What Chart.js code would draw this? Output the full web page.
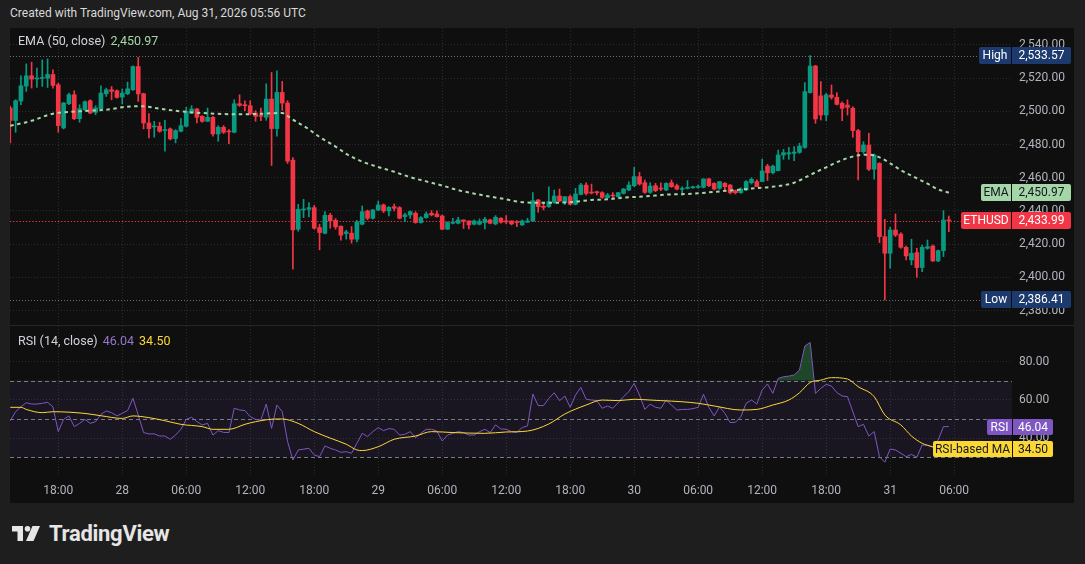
<!DOCTYPE html>
<html>
<head>
<meta charset="utf-8">
<title>ETHUSD 30m</title>
<script src="https://cdn.jsdelivr.net/npm/chart.js@4.4.1/dist/chart.umd.min.js"></script>
<style>
    body {
        margin: 0;
        width: 1085px;
        height: 564px;
        overflow: hidden;
        background: #1e1e1e;
        font-family: Roboto, "Noto Sans", sans-serif;
        position: relative;
    }
    #header {
        position: absolute;
        left: 10px;
        top: 6px;
        font-size: 12px;
        color: #d9d9d9;
    }
    #panel {
        position: absolute;
        left: 10px;
        top: 28px;
        width: 1064px;
        height: 475px;
        background: #0f0f0f;
    }
    #panel canvas {
        position: absolute;
        left: 0;
    }
    #mainCanvas { top: 0; }
    #rsiCanvas { top: 298px; }
    #separator {
        position: absolute;
        left: 0;
        top: 297px;
        width: 1064px;
        height: 1px;
        background: #262626;
    }
    .legend {
        position: absolute;
        left: 8px;
        font-size: 12.5px;
        color: #d1d4dc;
        white-space: nowrap;
    }
    .legend span { margin-left: 5px; }
    #logo {
        position: absolute;
        left: 12px;
        top: 521px;
        display: flex;
        align-items: center;
        color: #e6e6e6;
        font-weight: bold;
        font-size: 22px;
        letter-spacing: -0.3px;
    }
    #logo svg { margin-right: 9px; }
</style>
</head>
<body>
<div id="header">Created with TradingView.com, Aug 31, 2026 05:56 UTC</div>
<div id="panel">
    <canvas id="mainCanvas" width="1064" height="298"></canvas>
    <div id="separator"></div>
    <canvas id="rsiCanvas" width="1064" height="177"></canvas>
    <div class="legend" style="top:5px">EMA (50, close)<span style="color:#a5d6a7">2,450.97</span></div>
    <div class="legend" style="top:305px">RSI (14, close)<span style="color:#9575cd">46.04</span><span style="color:#fdd835">34.50</span></div>
</div>
<div id="logo">
    <svg width="28" height="15" viewBox="0 0 28 15">
        <path d="M0 0 H11 V15 H5.5 V5.5 H0 Z" fill="#e6e6e6"/>
        <circle cx="15.5" cy="2.8" r="2.8" fill="#e6e6e6"/>
        <path d="M20.5 0 H28 L21.5 15 H14 Z" fill="#e6e6e6"/>
    </svg>
    TradingView
</div>

<script>
// 30 minute candles, index 0 = Aug 27 13:30 UTC, last = Aug 31 05:30 UTC
const openVals = [
    2502, 2494.5, 2506.2, 2515.2, 2521.4, 2519.5, 2519.8, 2520, 2522.2, 2516,
    2490, 2504.6, 2510, 2495.6, 2501, 2506.4, 2499.4, 2501.6, 2510.6, 2513,
    2512.4, 2508.6, 2510.6, 2513, 2527, 2510.6, 2493, 2490.6, 2491, 2488.4,
    2489.4, 2483.6, 2488, 2491, 2499, 2501.4, 2497, 2494, 2496.4, 2486.4,
    2490.4, 2487.8, 2487.4, 2504.6, 2504, 2503.4, 2499, 2497.4, 2496.4, 2507.4,
    2489.6, 2511.4, 2505, 2470.6, 2429, 2440.6, 2441, 2442, 2430, 2426.6,
    2437.4, 2434.4, 2430.8, 2426.4, 2426.6, 2423, 2432, 2440, 2435.6, 2440.6,
    2443.6, 2440, 2442.6, 2442, 2436.6, 2437.6, 2438.6, 2433, 2436, 2438.6,
    2438.2, 2437, 2429, 2432.6, 2432.6, 2434.6, 2434, 2432, 2432, 2433,
    2434.6, 2432.2, 2435.6, 2433.6, 2434, 2433.2, 2431.6, 2433.2, 2434, 2446.6,
    2442.6, 2442.6, 2445.2, 2449, 2445, 2448.6, 2444, 2450, 2455.6, 2451.2,
    2451.6, 2451, 2448, 2449.6, 2448.6, 2450.6, 2452.6, 2455.2, 2460.7, 2457,
    2451.2, 2455.2, 2453.6, 2452.6, 2457, 2455.2, 2453, 2453.6, 2454, 2454.2,
    2454.2, 2459.3, 2456.6, 2453.6, 2456.7, 2455.6, 2452.2, 2451, 2452.6, 2457,
    2457.7, 2457.7, 2467, 2463, 2464.3, 2473.7, 2474.3, 2474.7, 2475.3, 2478.3,
    2511.3, 2527.3, 2509.3, 2497.8, 2509.9, 2508.5, 2504.8, 2503.8, 2501.8, 2488.4,
    2475.7, 2479.7, 2465.1, 2468.7, 2424.5, 2414.5, 2428.5, 2426.1, 2418.1, 2410.5,
    2414.9, 2405.9, 2417.5, 2418.9, 2409.9, 2416.1, 2434.5
];
const highVals = [
    2503, 2507, 2521.4, 2528.6, 2529.6, 2526, 2531, 2531.6, 2525, 2517,
    2505.4, 2511, 2512.4, 2504, 2506.4, 2507, 2503.4, 2515.4, 2514, 2515,
    2513, 2513.4, 2517.6, 2527.4, 2532.5, 2511, 2498.6, 2494, 2493.4, 2494.6,
    2490, 2489, 2495.6, 2502.4, 2503.4, 2501.8, 2497.4, 2502, 2497, 2491.4,
    2491.4, 2489, 2507, 2510, 2506.4, 2506.4, 2500.4, 2502, 2516.6, 2523.4,
    2524.4, 2518, 2506.4, 2472.2, 2444, 2447, 2445, 2443.4, 2432, 2439.6,
    2438.6, 2435.4, 2431, 2428.4, 2430.6, 2434.4, 2443, 2440.6, 2441, 2446,
    2444.2, 2442.6, 2444.2, 2442.6, 2438.7, 2440, 2439.6, 2436.6, 2439.4, 2440.2,
    2440, 2437.6, 2433.4, 2435.6, 2436.2, 2434.6, 2434, 2434.6, 2435.2, 2436.2,
    2435, 2437.2, 2436, 2437.2, 2434, 2434.2, 2434.6, 2435.6, 2451, 2447,
    2445, 2454.6, 2452.6, 2453.2, 2448.6, 2449.6, 2453.6, 2456.6, 2457, 2456.2,
    2452, 2451.6, 2450.6, 2451, 2451.2, 2453.6, 2457.6, 2466.3, 2463.3, 2458.6,
    2457, 2456.6, 2457, 2457, 2458.7, 2456.2, 2454.6, 2458.3, 2455, 2455.6,
    2459.3, 2459.6, 2457, 2457.7, 2457.1, 2456, 2452.6, 2454, 2458.3, 2460,
    2458.7, 2471.3, 2468.1, 2467.7, 2476.7, 2477.1, 2478.3, 2478.7, 2480.8, 2517.3,
    2533.57, 2527.7, 2517.9, 2510.9, 2515.9, 2511.3, 2505.8, 2506.9, 2502.8, 2489.2,
    2481.8, 2486.8, 2474.3, 2469.1, 2435, 2430.2, 2438.2, 2426.9, 2418.9, 2423,
    2417.5, 2419.5, 2422.5, 2419.5, 2416.5, 2440.2, 2437
];
const lowVals = [
    2481, 2487.4, 2504, 2512, 2514, 2514.4, 2515, 2514.4, 2514, 2487.4,
    2489.4, 2504, 2495, 2493.4, 2500.4, 2498.6, 2498, 2501.4, 2509, 2507,
    2508, 2504.4, 2510, 2512.6, 2506, 2489.4, 2484, 2484.4, 2487.4, 2476,
    2482.8, 2481, 2487.6, 2490.6, 2498.6, 2493, 2493.4, 2493.8, 2485, 2482,
    2486.6, 2480.6, 2487, 2503, 2500.4, 2498, 2494, 2494.4, 2494.6, 2467.4,
    2485, 2500.6, 2468.6, 2405, 2427.8, 2436, 2436.4, 2429, 2416.6, 2426.2,
    2429.6, 2429, 2422.4, 2423, 2420.6, 2421.4, 2431.6, 2434.6, 2435, 2440.2,
    2439, 2437, 2440, 2435.2, 2433.6, 2435.6, 2432.6, 2432.6, 2435.6, 2437,
    2436.2, 2428.6, 2428.9, 2432.2, 2432.2, 2429.5, 2429.2, 2431.6, 2431.6, 2429.2,
    2432.2, 2431.6, 2432.6, 2432.2, 2431.6, 2430.6, 2431.2, 2433, 2433.6, 2439.2,
    2440.6, 2442.2, 2444.6, 2445.6, 2444, 2443.6, 2443.6, 2449.6, 2449.6, 2450.2,
    2449.6, 2447.6, 2447.6, 2447.6, 2448.2, 2450.2, 2452.2, 2454.6, 2455.6, 2450.6,
    2450.6, 2451.6, 2452.2, 2452.2, 2454.2, 2452.6, 2449.6, 2453.2, 2453.6, 2453.6,
    2453.8, 2454.6, 2452.6, 2453, 2452.6, 2450.2, 2450.2, 2450.6, 2452.2, 2456.2,
    2454.6, 2457.7, 2458.3, 2462.3, 2464.1, 2471.1, 2471.1, 2470.3, 2474.7, 2477.7,
    2510.9, 2492.8, 2494.8, 2494.4, 2507.3, 2503.8, 2494.4, 2497.8, 2484.4, 2458.7,
    2474.7, 2464.3, 2459.1, 2420.9, 2386.41, 2405.5, 2424.5, 2417.5, 2410.5, 2407.5,
    2400, 2403.4, 2416.9, 2409.5, 2409.5, 2412.5, 2427.5
];
const closeVals = [
    2494.5, 2506.4, 2515.4, 2521.4, 2519.4, 2520, 2520.3, 2522.2, 2515.6, 2491.4,
    2505, 2510, 2495.6, 2501.6, 2505.8, 2499, 2502, 2511, 2513, 2512,
    2508.4, 2511, 2513.6, 2527, 2510.5, 2493, 2489.6, 2491, 2488, 2489,
    2483.4, 2488.4, 2491.4, 2500, 2501.4, 2496.4, 2494, 2496.4, 2486.4, 2490.4,
    2487.4, 2487.6, 2504.6, 2503.6, 2503.4, 2498.6, 2497, 2497, 2507.4, 2489.6,
    2511.4, 2505, 2470, 2428.6, 2441, 2441, 2442, 2429.6, 2427, 2437.4,
    2434, 2430.4, 2425.4, 2427.4, 2423, 2433.4, 2439.6, 2435.6, 2440.6, 2443.6,
    2440, 2442.2, 2441.6, 2435.6, 2437.6, 2439.6, 2433, 2436, 2438.2, 2437.6,
    2436.6, 2429, 2433, 2433.2, 2434.6, 2434, 2431.6, 2434, 2433.6, 2435,
    2432.6, 2436.2, 2433.2, 2433.4, 2432.2, 2433, 2434, 2434, 2446.2, 2442.6,
    2442.2, 2445.6, 2449, 2446, 2448.6, 2444, 2450.2, 2455.6, 2450.6, 2450.8,
    2451, 2448.2, 2449.6, 2449, 2451, 2453.2, 2455.6, 2460.7, 2456.2, 2451.2,
    2455, 2452.2, 2453.2, 2456.6, 2454.6, 2453.2, 2453.6, 2454.2, 2454.6, 2454.6,
    2459.3, 2455.2, 2453.2, 2457.7, 2454.6, 2451, 2451, 2453.2, 2457.7, 2459.1,
    2454.6, 2464.1, 2463, 2467, 2473.7, 2475.1, 2475.1, 2475.5, 2479.1, 2511.9,
    2527.3, 2495.4, 2497.8, 2509.9, 2508.5, 2504.2, 2501.8, 2502.4, 2488.4, 2475.7,
    2479.7, 2465.1, 2473.7, 2424.5, 2414.5, 2428.5, 2425.5, 2418.1, 2412.9, 2414.5,
    2405.9, 2418.1, 2418.5, 2409.9, 2416.1, 2434.5, 2433.99
];

// EMA (50) as [candle index, value]
const emaPoints = [
    [0, 2491.3], [4, 2494.3], [8, 2498.6], [13, 2500], [18, 2501], [23, 2503],
    [25, 2503], [28, 2501.6], [32, 2500], [37, 2498.8], [43, 2498.2], [46, 2498.4],
    [51, 2499], [52, 2497.2], [53, 2495], [56, 2489.2], [58, 2484.5], [61, 2478.8],
    [63, 2474.4], [66, 2469.7], [69, 2466.5], [72, 2463.6], [75, 2460.3], [78, 2457.8],
    [81, 2455.3], [84, 2452.5], [86, 2451.1], [89, 2449.2], [93, 2447], [95, 2445.7],
    [98, 2445], [100, 2445], [103, 2445], [106, 2445.6], [109, 2446.6], [112, 2447],
    [115, 2448], [118, 2448.6], [121, 2449.3], [124, 2450], [127, 2450.2], [129, 2450.6],
    [132, 2451.5], [136, 2452.6], [139, 2453.5], [143, 2454.6], [147, 2457], [150, 2461.7],
    [153, 2466.3], [156, 2470.7], [159, 2473.5], [161, 2473.9], [163, 2472.3], [165, 2468.7],
    [167, 2464.5], [170, 2459.7], [172, 2456.4], [174, 2453], [176, 2450.97]
];

// RSI (14) per candle
const rsiVals = [
    49.1, 53.8, 56.4, 58.5, 57.8, 57.8, 58.2, 58.7, 56.4, 43.4,
    49.8, 51.6, 46.0, 47.7, 49.8, 47.7, 48.6, 52.4, 54.2, 53.3,
    51.6, 53.0, 54.4, 60.8, 52.1, 42.9, 42.2, 42.2, 41.1, 41.1,
    39.4, 41.6, 44.6, 49.8, 50.9, 48.6, 46.9, 47.7, 41.6, 43.9,
    43.0, 42.9, 55.6, 54.7, 54.4, 51.2, 49.8, 49.5, 57.8, 45.1,
    57.3, 53.8, 38.2, 28.6, 33.8, 34.2, 34.7, 31.2, 30.3, 35.9,
    34.7, 33.8, 32.6, 32.9, 32.1, 37.3, 42.5, 40.8, 43.4, 45.5,
    43.9, 45.0, 44.6, 41.6, 42.0, 43.4, 40.2, 42.5, 44.6, 44.6,
    43.7, 38.5, 41.6, 42.5, 43.4, 42.9, 41.6, 41.6, 43.4, 44.6,
    42.9, 46.9, 44.8, 44.6, 43.4, 43.0, 45.5, 46.4, 63.0, 57.0,
    57.0, 60.8, 63.7, 59.6, 62.0, 56.1, 62.5, 66.5, 60.3, 59.9,
    59.6, 55.6, 56.8, 55.6, 58.5, 61.7, 64.3, 68.6, 62.5, 55.0,
    57.8, 56.1, 55.6, 59.9, 57.3, 54.7, 55.0, 55.0, 55.4, 56.1,
    62.9, 56.1, 51.6, 56.4, 53.0, 48.1, 48.3, 51.2, 58.2, 59.9,
    57.8, 65.1, 68.3, 63.4, 71.2, 72.1, 72.4, 73.0, 75.6, 88.1,
    90.0, 63.4, 66.0, 68.1, 67.2, 63.8, 62.0, 61.7, 53.8, 46.0,
    47.2, 41.1, 43.4, 30.3, 27.4, 34.3, 33.8, 32.1, 30.3, 31.5,
    30.0, 36.4, 36.4, 35.2, 39.0, 46.0, 46.04
];

// RSI-based MA as [candle index, value]
const rsiMaPoints = [
    [0, 56.1], [2, 56.1], [3, 55.0], [6, 53.3], [8, 53.8], [14, 52.9], [17, 51.7],
    [21, 50.3], [23, 51.6], [26, 50.7], [29, 49.1], [32, 47.2], [36, 46.0], [38, 44.6],
    [41, 44.6], [44, 47.2], [46, 48.6], [50, 50.0], [51, 50.0], [54, 47.7], [57, 43.4],
    [60, 40.0], [63, 36.8], [65, 33.8], [66, 33.5], [69, 35.5], [72, 39.4], [76, 41.1],
    [79, 43.4], [83, 42.9], [89, 42.5], [93, 43.2], [97, 43.7], [101, 47.4], [104, 52.6],
    [108, 57.3], [111, 59.9], [114, 59.6], [117, 60.3], [120, 59.9], [122, 59.6], [126, 59.0],
    [129, 58.2], [132, 56.8], [137, 54.7], [140, 55.0], [143, 57.3], [146, 59.9], [148, 63.7],
    [150, 69.1], [152, 70.3], [154, 71.6], [157, 70.9], [159, 66.9], [162, 61.7], [164, 52.1],
    [167, 46.9], [169, 41.1], [171, 37.3], [173, 35.5], [176, 34.5]
];

const timeTickIdx = [9, 21, 33, 45, 57, 69, 81, 93, 105, 117, 129, 141, 153, 165, 177];
const timeTickLabels = ['18:00', '28', '06:00', '12:00', '18:00', '29', '06:00', '12:00',
    '18:00', '30', '06:00', '12:00', '18:00', '31', '06:00'];
const priceTicks = [2380, 2400, 2420, 2440, 2460, 2480, 2500, 2520, 2540];
const rsiTicks = [40, 60, 80];

const lastPrice = 2433.99;
const emaLast = 2450.97;
const dayHigh = 2533.57;
const dayLow = 2386.41;
const rsiLast = 46.04;
const rsiMaLast = 34.5;

const upColor = '#089981';
const downColor = '#f23645';
const gridColor = '#2c2c2c';
const textColor = '#b2b5be';
const tickFont = { family: 'Roboto', size: 12 };

// x range chosen so that the candle spacing matches the picture
const xMin = -0.05;
const xMax = 187.85;

function formatPrice(v) {
    return v.toLocaleString('en-US', { minimumFractionDigits: 2, maximumFractionDigits: 2 });
}

function xAxis(showLabels) {
    return {
        type: 'linear',
        min: xMin,
        max: xMax,
        offset: false,
        grid: { color: gridColor, drawTicks: false, offset: false },
        border: { display: false, dash: [1, 2] },
        afterBuildTicks: scale => { scale.ticks = timeTickIdx.map(v => ({ value: v })); },
        ticks: {
            display: showLabels,
            autoSkip: false,
            maxRotation: 0,
            color: textColor,
            font: tickFont,
            padding: 8,
            callback: (v, i) => timeTickLabels[i]
        },
        afterFit: scale => {
            scale.height = showLabels ? 27 : 0;
            scale.paddingLeft = 0;
            scale.paddingRight = 0;
        }
    };
}

function yAxis(min, max, ticks, fmt) {
    return {
        position: 'right',
        min: min,
        max: max,
        grid: { color: gridColor, drawTicks: false },
        border: { display: false, dash: [1, 2] },
        afterBuildTicks: scale => { scale.ticks = ticks.map(v => ({ value: v })); },
        ticks: { color: textColor, font: tickFont, padding: 7, callback: fmt },
        afterFit: scale => {
            // keep the plot flush with the pane edges
            scale.width = 62;
            scale.paddingTop = 0;
            scale.paddingBottom = 0;
        }
    };
}

// Horizontal dotted/dashed line helper
function hLine(ctx, x0, x1, y, color, dash) {
    const yy = Math.round(y) + 0.5;
    ctx.save();
    ctx.strokeStyle = color;
    ctx.lineWidth = 1;
    ctx.setLineDash(dash);
    ctx.beginPath();
    ctx.moveTo(x0, yy);
    ctx.lineTo(x1, yy);
    ctx.stroke();
    ctx.restore();
}

// Price tag on the right axis: [label][value]
function drawTag(ctx, y, label, value, x0, x1, x2, h, bg, fg) {
    const top = Math.round(y - h / 2);
    ctx.save();
    ctx.fillStyle = bg;
    ctx.beginPath();
    ctx.roundRect(x0, top, x1 - x0 - 1, h, [2, 0, 0, 2]);
    ctx.roundRect(x1, top, x2 - x1, h, [0, 2, 2, 0]);
    ctx.fill();
    ctx.fillStyle = fg;
    ctx.font = '12px Roboto';
    ctx.textAlign = 'center';
    ctx.textBaseline = 'middle';
    ctx.fillText(label, (x0 + x1 - 1) / 2, top + h / 2 + 0.5);
    ctx.fillText(value, (x1 + x2) / 2, top + h / 2 + 0.5);
    ctx.restore();
}

const mainOverlay = {
    id: 'mainOverlay',
    beforeDatasetsDraw(chart) {
        const { ctx, chartArea, scales: { y } } = chart;
        hLine(ctx, chartArea.left, 969, y.getPixelForValue(dayHigh), 'rgba(170,173,182,0.6)', [1, 2]);
        hLine(ctx, chartArea.left, 971, y.getPixelForValue(dayLow), 'rgba(170,173,182,0.6)', [1, 2]);
        hLine(ctx, chartArea.left, 951, y.getPixelForValue(lastPrice), downColor, [1.3, 1.9]);
    },
    afterDraw(chart) {
        const { ctx, scales: { y } } = chart;
        drawTag(ctx, y.getPixelForValue(dayHigh), 'High', formatPrice(dayHigh), 969, 1002, 1061, 17, '#1c3a6e', '#ffffff');
        drawTag(ctx, y.getPixelForValue(emaLast), 'EMA', formatPrice(emaLast), 971, 1002, 1061, 17, '#a5d6a7', '#131722');
        drawTag(ctx, y.getPixelForValue(lastPrice), 'ETHUSD', formatPrice(lastPrice), 951, 1002, 1061, 17, downColor, '#ffffff');
        drawTag(ctx, y.getPixelForValue(dayLow), 'Low', formatPrice(dayLow), 971, 1002, 1061, 17, '#1c3a6e', '#ffffff');
    }
};

const rsiOverlay = {
    id: 'rsiOverlay',
    beforeDatasetsDraw(chart) {
        const { ctx, chartArea, scales: { y } } = chart;
        const y70 = y.getPixelForValue(70);
        const y30 = y.getPixelForValue(30);
        ctx.save();
        ctx.fillStyle = 'rgba(126,87,194,0.1)';
        ctx.fillRect(chartArea.left, y70, chartArea.right - chartArea.left, y30 - y70);
        ctx.restore();
        [70, 50, 30].forEach(v => {
            hLine(ctx, chartArea.left, chartArea.right, y.getPixelForValue(v), '#787b86', [4, 3]);
        });
    },
    afterDraw(chart) {
        const { ctx, scales: { y } } = chart;
        drawTag(ctx, y.getPixelForValue(rsiLast), 'RSI', rsiLast.toFixed(2), 977, 1003, 1043, 16, '#7e57c2', '#ffffff');
        drawTag(ctx, y.getPixelForValue(rsiMaLast), 'RSI-based MA', rsiMaLast.toFixed(2), 923, 1003, 1043, 16, '#fdd835', '#131722');
    }
};

function initializeMainChart() {
    const ctx = document.getElementById('mainCanvas');
    const candleColors = closeVals.map((c, i) => c >= openVals[i] ? upColor : downColor);

    new Chart(ctx, {
        type: 'bar',
        data: {
            datasets: [{
                label: 'wick',
                data: highVals.map((h, i) => ({ x: i, y: [lowVals[i], h] })),
                backgroundColor: candleColors,
                barThickness: 1,
                grouped: false,
                order: 2
            }, {
                label: 'body',
                data: openVals.map((o, i) => ({ x: i, y: [o, closeVals[i]] })),
                backgroundColor: candleColors,
                barThickness: 4,
                minBarLength: 1,
                grouped: false,
                order: 1
            }, {
                type: 'line',
                label: 'EMA',
                data: emaPoints.map(p => ({ x: p[0], y: p[1] })),
                borderColor: '#a5d6a7',
                borderWidth: 2,
                borderDash: [3.5, 3.5],
                pointRadius: 0,
                cubicInterpolationMode: 'monotone',
                order: 0
            }]
        },
        options: {
            responsive: false,
            animation: false,
            layout: { padding: 0 },
            scales: {
                x: xAxis(false),
                y: yAxis(2370.7, 2550.2, priceTicks, v => formatPrice(v))
            },
            plugins: {
                legend: { display: false },
                tooltip: { enabled: false }
            }
        },
        plugins: [mainOverlay]
    });
}

function initializeRsiChart() {
    const ctx = document.getElementById('rsiCanvas');

    new Chart(ctx, {
        type: 'line',
        data: {
            datasets: [{
                label: 'RSI',
                data: rsiVals.map((v, i) => ({ x: i, y: v })),
                borderColor: '#7e57c2',
                borderWidth: 1,
                pointRadius: 0,
                tension: 0,
                fill: {
                    target: { value: 70 },
                    above: 'rgba(46,140,70,0.45)',
                    below: 'rgba(0,0,0,0)'
                },
                order: 1
            }, {
                label: 'RSI-based MA',
                data: rsiMaPoints.map(p => ({ x: p[0], y: p[1] })),
                borderColor: '#fdd835',
                borderWidth: 1,
                pointRadius: 0,
                cubicInterpolationMode: 'monotone',
                order: 0
            }]
        },
        options: {
            responsive: false,
            animation: false,
            layout: { padding: 0 },
            scales: {
                x: xAxis(true),
                y: yAxis(20.2, 98.6, rsiTicks, v => v.toFixed(2))
            },
            plugins: {
                legend: { display: false },
                tooltip: { enabled: false }
            }
        },
        plugins: [rsiOverlay]
    });
}

initializeMainChart();
initializeRsiChart();
</script>
</body>
</html>
